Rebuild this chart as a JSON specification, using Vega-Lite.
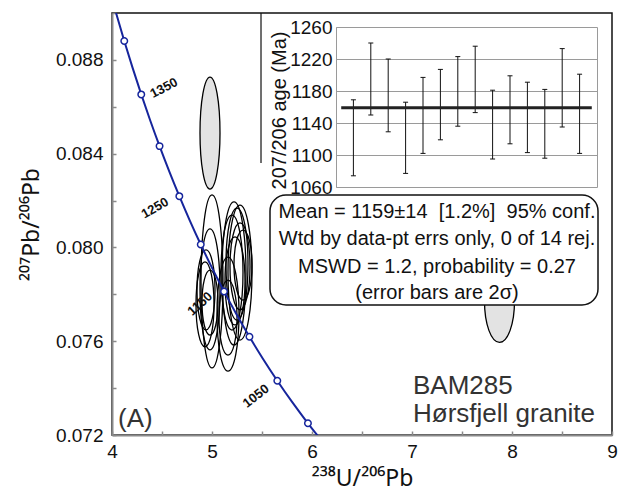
{
  "$schema": "https://vega.github.io/schema/vega-lite/v6.json",
  "width": 500,
  "height": 422,
  "autosize": "none",
  "padding": {"left": 112, "top": 13, "right": 7, "bottom": 57},
  "background": "white",
  "config": {
    "font": "Liberation Sans",
    "view": {"stroke": "#111", "strokeWidth": 1.5}
  },
  "datasets": {
    "concordia": [
      {"age": 1450, "x238": 3.9645, "y207": 0.091163},
      {"age": 1425, "x238": 4.0422, "y207": 0.089975},
      {"age": 1400, "x238": 4.1227, "y207": 0.088807},
      {"age": 1375, "x238": 4.2061, "y207": 0.087658},
      {"age": 1350, "x238": 4.2926, "y207": 0.086528},
      {"age": 1325, "x238": 4.3823, "y207": 0.085415},
      {"age": 1300, "x238": 4.4756, "y207": 0.084322},
      {"age": 1275, "x238": 4.5725, "y207": 0.083247},
      {"age": 1250, "x238": 4.6733, "y207": 0.082188},
      {"age": 1225, "x238": 4.7782, "y207": 0.081147},
      {"age": 1200, "x238": 4.8875, "y207": 0.080125},
      {"age": 1175, "x238": 5.0015, "y207": 0.079118},
      {"age": 1150, "x238": 5.1204, "y207": 0.078125},
      {"age": 1125, "x238": 5.2447, "y207": 0.07715},
      {"age": 1100, "x238": 5.3746, "y207": 0.07619},
      {"age": 1075, "x238": 5.5106, "y207": 0.075244},
      {"age": 1050, "x238": 5.6531, "y207": 0.074314},
      {"age": 1025, "x238": 5.8025, "y207": 0.073399},
      {"age": 1000, "x238": 5.9594, "y207": 0.0725},
      {"age": 975, "x238": 6.1243, "y207": 0.071614}
    ],
    "ellipses": [
      {"id": "G1", "kind": "excluded", "x238": 4.98, "y207": 0.08488},
      {"id": "G2", "kind": "excluded", "x238": 7.875, "y207": 0.0777},
      {"id": "L1", "kind": "included", "x238": 5.0, "y207": 0.07855},
      {"id": "L2", "kind": "included", "x238": 4.98, "y207": 0.07821},
      {"id": "L3", "kind": "included", "x238": 4.94, "y207": 0.07819},
      {"id": "L4", "kind": "included", "x238": 4.93, "y207": 0.07757},
      {"id": "L5", "kind": "included", "x238": 4.98, "y207": 0.07765},
      {"id": "R1", "kind": "included", "x238": 5.16, "y207": 0.07716},
      {"id": "R2", "kind": "included", "x238": 5.22, "y207": 0.07889},
      {"id": "R3", "kind": "included", "x238": 5.28, "y207": 0.07893},
      {"id": "R4", "kind": "included", "x238": 5.25, "y207": 0.07929},
      {"id": "R5", "kind": "included", "x238": 5.2, "y207": 0.07893},
      {"id": "R6", "kind": "included", "x238": 5.28, "y207": 0.07919},
      {"id": "R7", "kind": "included", "x238": 5.23, "y207": 0.07857},
      {"id": "R8", "kind": "included", "x238": 5.31, "y207": 0.07925},
      {"id": "R9", "kind": "included", "x238": 5.16, "y207": 0.07701}
    ],
    "ages": [
      {"n": 1, "lo": 1074, "hi": 1169},
      {"n": 2, "lo": 1150, "hi": 1240},
      {"n": 3, "lo": 1129, "hi": 1220},
      {"n": 4, "lo": 1077, "hi": 1166},
      {"n": 5, "lo": 1102, "hi": 1197},
      {"n": 6, "lo": 1119, "hi": 1207},
      {"n": 7, "lo": 1136, "hi": 1223},
      {"n": 8, "lo": 1153, "hi": 1236},
      {"n": 9, "lo": 1095, "hi": 1181},
      {"n": 10, "lo": 1114, "hi": 1199},
      {"n": 11, "lo": 1103, "hi": 1191},
      {"n": 12, "lo": 1096, "hi": 1182},
      {"n": 13, "lo": 1135, "hi": 1233},
      {"n": 14, "lo": 1102, "hi": 1201}
    ]
  },
  "layer": [
    {
      "layer": [
        {
          "data": {"name": "ellipses"},
          "mark": {"type": "point", "size": 4, "filled": true, "stroke": "#000", "strokeWidth": 1.3, "opacity": 1},
          "encoding": {
            "x": {
              "field": "x238", "type": "quantitative",
              "scale": {"domain": [4, 9], "nice": false, "zero": false},
              "axis": {
                "values": [4, 4.5, 5, 5.5, 6, 6.5, 7, 7.5, 8, 8.5, 9],
                "format": "~g",
                "labelExpr": "datum.value % 1 === 0 ? datum.label : ''",
                "title": "²³⁸U/²⁰⁶Pb",
                "titleFont": "Noto Sans",
                "titleFontSize": 23, "titleFontWeight": "normal", "titleColor": "#111", "titlePadding": 6,
                "labelFontSize": 19, "labelColor": "#111", "labelPadding": 11,
                "labelFlush": false, "labelOverlap": false,
                "domainColor": "#8a8a8a", "domainWidth": 2,
                "tickColor": "#8a8a8a", "tickSize": -4, "tickWidth": 1.5,
                "grid": false
              }
            },
            "y": {
              "field": "y207", "type": "quantitative",
              "scale": {"domain": [0.072, 0.09], "nice": false, "zero": false},
              "axis": {
                "values": [0.072, 0.074, 0.076, 0.078, 0.08, 0.082, 0.084, 0.086, 0.088, 0.09],
                "format": ".3f",
                "labelExpr": "round(datum.value * 1000) % 4 === 0 ? datum.label : ''",
                "title": "²⁰⁷Pb/²⁰⁶Pb",
                "titleFont": "Noto Sans",
                "titleFontSize": 23, "titleFontWeight": "normal", "titleColor": "#111", "titlePadding": 12,
                "labelFontSize": 19, "labelColor": "#111", "labelPadding": 13,
                "labelFlush": false, "labelOverlap": false,
                "domainColor": "#8a8a8a", "domainWidth": 2,
                "tickColor": "#8a8a8a", "tickSize": -4, "tickWidth": 1.5,
                "grid": false
              }
            },
            "shape": {
              "field": "id", "type": "nominal", "legend": null,
              "scale": {
                "domain": ["G1", "G2", "L1", "L2", "L3", "L4", "L5", "R1", "R2", "R3", "R4", "R5", "R6", "R7", "R8", "R9"],
                "range": [
                  "M-10,0C-10,-30.93,-5.52,-56,0,-56C5.52,-56,10,-30.93,10,0C10,30.93,5.52,56,0,56C-5.52,56,-10,30.93,-10,0Z",
                  "M-15,0C-15,-22.64,-8.28,-41,0,-41C8.28,-41,15,-22.64,15,0C15,22.64,8.28,41,0,41C-8.28,41,-15,22.64,-15,0Z",
                  "M-11,0C-11,-47.77,-6.08,-86.5,0,-86.5C6.08,-86.5,11,-47.77,11,0C11,47.77,6.08,86.5,0,86.5C-6.08,86.5,-11,47.77,-11,0Z",
                  "M-10,0C-10,-33.41,-5.52,-60.5,0,-60.5C5.52,-60.5,10,-33.41,10,0C10,33.41,5.52,60.5,0,60.5C-5.52,60.5,-10,33.41,-10,0Z",
                  "M-9,0C-9,-22.09,-4.97,-40,0,-40C4.97,-40,9,-22.09,9,0C9,22.09,4.97,40,0,40C-4.97,40,-9,22.09,-9,0Z",
                  "M-9,0C-9,-23.47,-4.97,-42.5,0,-42.5C4.97,-42.5,9,-23.47,9,0C9,23.47,4.97,42.5,0,42.5C-4.97,42.5,-9,23.47,-9,0Z",
                  "M-8,0C-8,-17.95,-4.42,-32.5,0,-32.5C4.42,-32.5,8,-17.95,8,0C8,17.95,4.42,32.5,0,32.5C-4.42,32.5,-8,17.95,-8,0Z",
                  "M-11,0C-11,-31.48,-6.08,-57,0,-57C6.08,-57,11,-31.48,11,0C11,31.48,6.08,57,0,57C-6.08,57,-11,31.48,-11,0Z",
                  "M-12,0C-12,-39.49,-6.63,-71.5,0,-71.5C6.63,-71.5,12,-39.49,12,0C12,39.49,6.63,71.5,0,71.5C-6.63,71.5,-12,39.49,-12,0Z",
                  "M-12,0C-12,-37.28,-6.63,-67.5,0,-67.5C6.63,-67.5,12,-37.28,12,0C12,37.28,6.63,67.5,0,67.5C-6.63,67.5,-12,37.28,-12,0Z",
                  "M-11,0C-11,-30.93,-6.08,-56,0,-56C6.08,-56,11,-30.93,11,0C11,30.93,6.08,56,0,56C-6.08,56,-11,30.93,-11,0Z",
                  "M-11,0C-11,-31.76,-6.08,-57.5,0,-57.5C6.08,-57.5,11,-31.76,11,0C11,31.76,6.08,57.5,0,57.5C-6.08,57.5,-11,31.76,-11,0Z",
                  "M-10,0C-10,-24.03,-5.52,-43.5,0,-43.5C5.52,-43.5,10,-24.03,10,0C10,24.03,5.52,43.5,0,43.5C-5.52,43.5,-10,24.03,-10,0Z",
                  "M-10,0C-10,-24.3,-5.52,-44,0,-44C5.52,-44,10,-24.3,10,0C10,24.3,5.52,44,0,44C-5.52,44,-10,24.3,-10,0Z",
                  "M-9,0C-9,-19.33,-4.97,-35,0,-35C4.97,-35,9,-19.33,9,0C9,19.33,4.97,35,0,35C-4.97,35,-9,19.33,-9,0Z",
                  "M-9,0C-9,-20.71,-4.97,-37.5,0,-37.5C4.97,-37.5,9,-20.71,9,0C9,20.71,4.97,37.5,0,37.5C-4.97,37.5,-9,20.71,-9,0Z"
                ]
              }
            },
            "fill": {
              "field": "kind", "type": "nominal", "legend": null,
              "scale": {"domain": ["excluded", "included"], "range": ["#e3e3e3", "transparent"]}
            }
          }
        },
        {
          "data": {"name": "concordia"},
          "mark": {"type": "line", "clip": true, "color": "#16259c", "strokeWidth": 2, "interpolate": "monotone"},
          "encoding": {
            "x": {"field": "x238", "type": "quantitative"},
            "y": {"field": "y207", "type": "quantitative"},
            "order": {"field": "age", "sort": "descending"}
          }
        },
        {
          "data": {"name": "concordia"},
          "transform": [{"filter": "datum.age % 50 === 0 && datum.age <= 1400 && datum.age >= 1000"}],
          "mark": {"type": "point", "filled": true, "fill": "white", "stroke": "#16259c", "strokeWidth": 1.5, "size": 42, "opacity": 1},
          "encoding": {
            "x": {"field": "x238", "type": "quantitative"},
            "y": {"field": "y207", "type": "quantitative"}
          }
        },
        {
          "data": {"values": [{}]},
          "mark": {"type": "text", "text": "1350", "angle": 332, "fontSize": 13, "fontWeight": "bold", "color": "#111", "align": "center", "baseline": "middle"},
          "encoding": {"x": {"datum": 4.52, "type": "quantitative"}, "y": {"datum": 0.0868, "type": "quantitative"}}
        },
        {
          "data": {"values": [{}]},
          "mark": {"type": "text", "text": "1250", "angle": 330, "fontSize": 13, "fontWeight": "bold", "color": "#111", "align": "center", "baseline": "middle"},
          "encoding": {"x": {"datum": 4.43, "type": "quantitative"}, "y": {"datum": 0.08168, "type": "quantitative"}}
        },
        {
          "data": {"values": [{}]},
          "mark": {"type": "text", "text": "1150", "angle": 318, "fontSize": 13, "fontWeight": "bold", "color": "#111", "align": "center", "baseline": "middle"},
          "encoding": {"x": {"datum": 4.88, "type": "quantitative"}, "y": {"datum": 0.07759, "type": "quantitative"}}
        },
        {
          "data": {"values": [{}]},
          "mark": {"type": "text", "text": "1050", "angle": 322, "fontSize": 13, "fontWeight": "bold", "color": "#111", "align": "center", "baseline": "middle"},
          "encoding": {"x": {"datum": 5.44, "type": "quantitative"}, "y": {"datum": 0.07366, "type": "quantitative"}}
        },
        {
          "data": {"values": [{}]},
          "mark": {"type": "text", "text": "BAM285", "fontSize": 26, "color": "#333", "align": "left", "baseline": "alphabetic"},
          "encoding": {"x": {"datum": 7.01, "type": "quantitative"}, "y": {"datum": 0.07375, "type": "quantitative"}}
        },
        {
          "data": {"values": [{}]},
          "mark": {"type": "text", "text": "Hørsfjell granite", "fontSize": 26, "color": "#333", "align": "left", "baseline": "alphabetic"},
          "encoding": {"x": {"datum": 7.01, "type": "quantitative"}, "y": {"datum": 0.07254, "type": "quantitative"}}
        },
        {
          "data": {"values": [{}]},
          "mark": {"type": "text", "text": "(A)", "fontSize": 26, "color": "#333", "align": "left", "baseline": "alphabetic"},
          "encoding": {"x": {"datum": 4.06, "type": "quantitative"}, "y": {"datum": 0.07234, "type": "quantitative"}}
        }
      ]
    },
    {
      "data": {"name": "ages"},
      "layer": [
        {
          "mark": {"type": "rule", "color": "#111", "strokeWidth": 1},
          "encoding": {
            "x": {
              "field": "n", "type": "quantitative",
              "scale": {"domain": [0, 15], "range": [224, 485], "nice": false, "zero": false},
              "axis": {"orient": "top", "values": [0, 15], "grid": true, "gridColor": "#9a9a9a", "gridWidth": 1, "labels": false, "ticks": false, "domain": false, "title": null}
            },
            "y": {
              "field": "lo", "type": "quantitative",
              "scale": {"domain": [1060, 1260], "range": [174, 14], "nice": false, "zero": false},
              "axis": {
                "orient": "left", "offset": -224,
                "values": [1060, 1100, 1140, 1180, 1220, 1260], "format": "d",
                "grid": true, "gridColor": "#9a9a9a", "gridWidth": 1,
                "domainColor": "#9a9a9a", "domainWidth": 1, "ticks": false,
                "labelFontSize": 19, "labelColor": "#111", "labelPadding": 4, "labelFlush": false, "labelOverlap": false,
                "title": "207/206 age (Ma)", "titleFontSize": 20, "titleFontWeight": "normal", "titleColor": "#111", "titlePadding": 0, "titleY": 97
              }
            },
            "y2": {"field": "hi"}
          }
        },
        {
          "mark": {"type": "tick", "orient": "horizontal", "size": 5, "thickness": 1, "color": "#111", "opacity": 1},
          "encoding": {"x": {"field": "n", "type": "quantitative"}, "y": {"field": "lo", "type": "quantitative"}}
        },
        {
          "mark": {"type": "tick", "orient": "horizontal", "size": 5, "thickness": 1, "color": "#111", "opacity": 1},
          "encoding": {"x": {"field": "n", "type": "quantitative"}, "y": {"field": "hi", "type": "quantitative"}}
        },
        {
          "data": {"values": [{"mean": 1159}]},
          "mark": {"type": "rule", "color": "#222", "strokeWidth": 3},
          "encoding": {
            "x": {"datum": 0.3, "type": "quantitative"},
            "x2": {"datum": 14.7},
            "y": {"field": "mean", "type": "quantitative"}
          }
        },
        {
          "data": {"values": [{}]},
          "mark": {"type": "rule", "color": "#111", "strokeWidth": 1.2},
          "encoding": {
            "x": {"datum": -4.31, "type": "quantitative"},
            "y": {"datum": 1277.5, "type": "quantitative"},
            "y2": {"datum": 1090}
          }
        }
      ]
    },
    {
      "data": {"values": [{}]},
      "layer": [
        {
          "mark": {"type": "rect", "fill": "white", "stroke": "#111", "strokeWidth": 1.5, "cornerRadius": 16},
          "encoding": {
            "x": {"datum": 5.58, "type": "quantitative", "scale": {"domain": [4, 9], "nice": false, "zero": false}, "axis": null},
            "x2": {"datum": 8.86},
            "y": {"datum": 0.082237, "type": "quantitative", "scale": {"domain": [0.072, 0.09], "nice": false, "zero": false}, "axis": null},
            "y2": {"datum": 0.077545}
          }
        },
        {
          "mark": {"type": "text", "text": "Mean = 1159±14\u00a0\u00a0[1.2%]\u00a0\u00a095% conf.", "fontSize": 20, "color": "#111", "align": "center", "baseline": "alphabetic"},
          "encoding": {"x": {"datum": 7.25, "type": "quantitative", "axis": null}, "y": {"datum": 0.081243, "type": "quantitative", "axis": null}}
        },
        {
          "mark": {"type": "text", "text": "Wtd by data-pt errs only, 0 of 14 rej.", "fontSize": 20, "color": "#111", "align": "center", "baseline": "alphabetic"},
          "encoding": {"x": {"datum": 7.25, "type": "quantitative", "axis": null}, "y": {"datum": 0.080104, "type": "quantitative", "axis": null}}
        },
        {
          "mark": {"type": "text", "text": "MSWD = 1.2, probability = 0.27", "fontSize": 20, "color": "#111", "align": "center", "baseline": "alphabetic"},
          "encoding": {"x": {"datum": 7.25, "type": "quantitative", "axis": null}, "y": {"datum": 0.078923, "type": "quantitative", "axis": null}}
        },
        {
          "mark": {"type": "text", "text": "(error bars are 2σ)", "fontSize": 20, "color": "#111", "align": "center", "baseline": "alphabetic"},
          "encoding": {"x": {"datum": 7.25, "type": "quantitative", "axis": null}, "y": {"datum": 0.07778, "type": "quantitative", "axis": null}}
        }
      ]
    }
  ],
  "resolve": {
    "scale": {"x": "independent", "y": "independent"},
    "axis": {"x": "independent", "y": "independent"}
  }
}
